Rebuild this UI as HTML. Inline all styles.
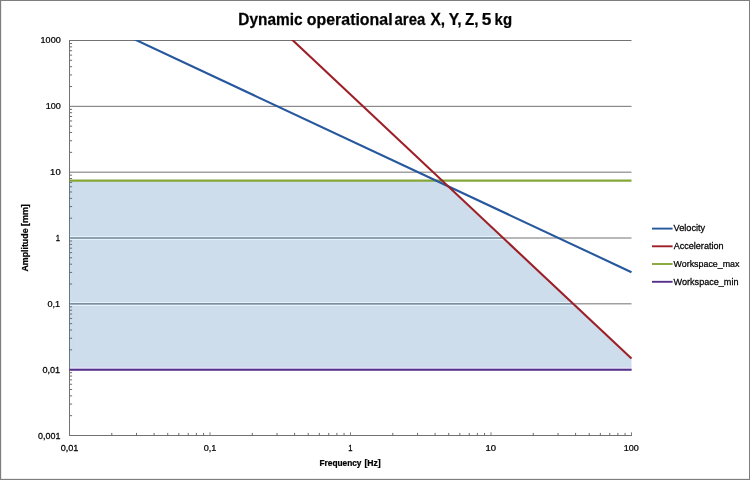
<!DOCTYPE html>
<html><head><meta charset="utf-8"><title>Chart</title>
<style>html,body{margin:0;padding:0;background:#fff;}svg{display:block;}text{font-family:"Liberation Sans",sans-serif;}</style></head><body>
<svg width="750" height="480" viewBox="0 0 750 480">
<defs><clipPath id="c"><rect x="68.5" y="40.0" width="563.6" height="396.0"/></clipPath>
<clipPath id="f"><polygon points="69.50,180.60 436.01,180.60 448.13,186.28 631.50,358.60 631.50,369.75 69.50,369.75"/></clipPath></defs>
<rect x="0" y="0" width="750" height="480" fill="#ffffff"/>
<line x1="69.5" y1="40.50" x2="631.5" y2="40.50" stroke="#727272" stroke-width="1"/>
<line x1="69.5" y1="106.33" x2="631.5" y2="106.33" stroke="#727272" stroke-width="1"/>
<line x1="69.5" y1="172.17" x2="631.5" y2="172.17" stroke="#727272" stroke-width="1"/>
<line x1="69.5" y1="238.00" x2="631.5" y2="238.00" stroke="#727272" stroke-width="1"/>
<line x1="69.5" y1="303.83" x2="631.5" y2="303.83" stroke="#727272" stroke-width="1"/>
<line x1="69.5" y1="369.67" x2="631.5" y2="369.67" stroke="#727272" stroke-width="1"/>
<polygon points="69.50,180.60 436.01,180.60 448.13,186.28 631.50,358.60 631.50,369.75 69.50,369.75" fill="#5388bb" fill-opacity="0.285"/>
<g clip-path="url(#f)">
<rect x="70.0" y="236" width="562.0" height="1" fill="#e8f6fe" fill-opacity="0.9"/>
<rect x="70.0" y="239" width="562.0" height="1" fill="#e8f6fe" fill-opacity="0.9"/>
<line x1="69.5" y1="238.00" x2="631.5" y2="238.00" stroke="#56646f" stroke-opacity="0.2" stroke-width="1.6"/>
<rect x="70.0" y="302" width="562.0" height="1" fill="#e8f6fe" fill-opacity="0.9"/>
<rect x="70.0" y="305" width="562.0" height="1" fill="#e8f6fe" fill-opacity="0.9"/>
<line x1="69.5" y1="303.83" x2="631.5" y2="303.83" stroke="#56646f" stroke-opacity="0.2" stroke-width="1.6"/>
<rect x="70.0" y="367.4" width="562.0" height="1.3" fill="#e9e0ff" fill-opacity="1"/>
</g>
<line x1="69.5" y1="40.0" x2="69.5" y2="436.0" stroke="#727272" stroke-width="1"/>
<line x1="69.5" y1="435.5" x2="632.0" y2="435.5" stroke="#727272" stroke-width="1"/>
<line x1="69.5" y1="181.5" x2="69.5" y2="368.7" stroke="#4f81bd" stroke-opacity="0.3" stroke-width="1"/>
<line x1="69.5" y1="415.68" x2="72.1" y2="415.68" stroke="#6c6c6c" stroke-width="1"/>
<line x1="69.5" y1="404.09" x2="72.1" y2="404.09" stroke="#6c6c6c" stroke-width="1"/>
<line x1="69.5" y1="395.86" x2="72.1" y2="395.86" stroke="#6c6c6c" stroke-width="1"/>
<line x1="69.5" y1="389.48" x2="72.1" y2="389.48" stroke="#6c6c6c" stroke-width="1"/>
<line x1="69.5" y1="384.27" x2="72.1" y2="384.27" stroke="#6c6c6c" stroke-width="1"/>
<line x1="69.5" y1="379.86" x2="72.1" y2="379.86" stroke="#6c6c6c" stroke-width="1"/>
<line x1="69.5" y1="376.05" x2="72.1" y2="376.05" stroke="#6c6c6c" stroke-width="1"/>
<line x1="69.5" y1="372.68" x2="72.1" y2="372.68" stroke="#6c6c6c" stroke-width="1"/>
<line x1="69.5" y1="349.85" x2="72.1" y2="349.85" stroke="#6c6c6c" stroke-width="1"/>
<line x1="69.5" y1="338.26" x2="72.1" y2="338.26" stroke="#6c6c6c" stroke-width="1"/>
<line x1="69.5" y1="330.03" x2="72.1" y2="330.03" stroke="#6c6c6c" stroke-width="1"/>
<line x1="69.5" y1="323.65" x2="72.1" y2="323.65" stroke="#6c6c6c" stroke-width="1"/>
<line x1="69.5" y1="318.44" x2="72.1" y2="318.44" stroke="#6c6c6c" stroke-width="1"/>
<line x1="69.5" y1="314.03" x2="72.1" y2="314.03" stroke="#6c6c6c" stroke-width="1"/>
<line x1="69.5" y1="310.21" x2="72.1" y2="310.21" stroke="#6c6c6c" stroke-width="1"/>
<line x1="69.5" y1="306.85" x2="72.1" y2="306.85" stroke="#6c6c6c" stroke-width="1"/>
<line x1="69.5" y1="284.02" x2="72.1" y2="284.02" stroke="#6c6c6c" stroke-width="1"/>
<line x1="69.5" y1="272.42" x2="72.1" y2="272.42" stroke="#6c6c6c" stroke-width="1"/>
<line x1="69.5" y1="264.20" x2="72.1" y2="264.20" stroke="#6c6c6c" stroke-width="1"/>
<line x1="69.5" y1="257.82" x2="72.1" y2="257.82" stroke="#6c6c6c" stroke-width="1"/>
<line x1="69.5" y1="252.61" x2="72.1" y2="252.61" stroke="#6c6c6c" stroke-width="1"/>
<line x1="69.5" y1="248.20" x2="72.1" y2="248.20" stroke="#6c6c6c" stroke-width="1"/>
<line x1="69.5" y1="244.38" x2="72.1" y2="244.38" stroke="#6c6c6c" stroke-width="1"/>
<line x1="69.5" y1="241.01" x2="72.1" y2="241.01" stroke="#6c6c6c" stroke-width="1"/>
<line x1="69.5" y1="218.18" x2="72.1" y2="218.18" stroke="#6c6c6c" stroke-width="1"/>
<line x1="69.5" y1="206.59" x2="72.1" y2="206.59" stroke="#6c6c6c" stroke-width="1"/>
<line x1="69.5" y1="198.36" x2="72.1" y2="198.36" stroke="#6c6c6c" stroke-width="1"/>
<line x1="69.5" y1="191.98" x2="72.1" y2="191.98" stroke="#6c6c6c" stroke-width="1"/>
<line x1="69.5" y1="186.77" x2="72.1" y2="186.77" stroke="#6c6c6c" stroke-width="1"/>
<line x1="69.5" y1="182.36" x2="72.1" y2="182.36" stroke="#6c6c6c" stroke-width="1"/>
<line x1="69.5" y1="178.55" x2="72.1" y2="178.55" stroke="#6c6c6c" stroke-width="1"/>
<line x1="69.5" y1="175.18" x2="72.1" y2="175.18" stroke="#6c6c6c" stroke-width="1"/>
<line x1="69.5" y1="152.35" x2="72.1" y2="152.35" stroke="#6c6c6c" stroke-width="1"/>
<line x1="69.5" y1="140.76" x2="72.1" y2="140.76" stroke="#6c6c6c" stroke-width="1"/>
<line x1="69.5" y1="132.53" x2="72.1" y2="132.53" stroke="#6c6c6c" stroke-width="1"/>
<line x1="69.5" y1="126.15" x2="72.1" y2="126.15" stroke="#6c6c6c" stroke-width="1"/>
<line x1="69.5" y1="120.94" x2="72.1" y2="120.94" stroke="#6c6c6c" stroke-width="1"/>
<line x1="69.5" y1="116.53" x2="72.1" y2="116.53" stroke="#6c6c6c" stroke-width="1"/>
<line x1="69.5" y1="112.71" x2="72.1" y2="112.71" stroke="#6c6c6c" stroke-width="1"/>
<line x1="69.5" y1="109.35" x2="72.1" y2="109.35" stroke="#6c6c6c" stroke-width="1"/>
<line x1="69.5" y1="86.52" x2="72.1" y2="86.52" stroke="#6c6c6c" stroke-width="1"/>
<line x1="69.5" y1="74.92" x2="72.1" y2="74.92" stroke="#6c6c6c" stroke-width="1"/>
<line x1="69.5" y1="66.70" x2="72.1" y2="66.70" stroke="#6c6c6c" stroke-width="1"/>
<line x1="69.5" y1="60.32" x2="72.1" y2="60.32" stroke="#6c6c6c" stroke-width="1"/>
<line x1="69.5" y1="55.11" x2="72.1" y2="55.11" stroke="#6c6c6c" stroke-width="1"/>
<line x1="69.5" y1="50.70" x2="72.1" y2="50.70" stroke="#6c6c6c" stroke-width="1"/>
<line x1="69.5" y1="46.88" x2="72.1" y2="46.88" stroke="#6c6c6c" stroke-width="1"/>
<line x1="69.5" y1="43.51" x2="72.1" y2="43.51" stroke="#6c6c6c" stroke-width="1"/>
<line x1="111.79" y1="435.5" x2="111.79" y2="432.9" stroke="#6c6c6c" stroke-width="1"/>
<line x1="136.54" y1="435.5" x2="136.54" y2="432.9" stroke="#6c6c6c" stroke-width="1"/>
<line x1="154.09" y1="435.5" x2="154.09" y2="432.9" stroke="#6c6c6c" stroke-width="1"/>
<line x1="167.71" y1="435.5" x2="167.71" y2="432.9" stroke="#6c6c6c" stroke-width="1"/>
<line x1="178.83" y1="435.5" x2="178.83" y2="432.9" stroke="#6c6c6c" stroke-width="1"/>
<line x1="188.24" y1="435.5" x2="188.24" y2="432.9" stroke="#6c6c6c" stroke-width="1"/>
<line x1="196.38" y1="435.5" x2="196.38" y2="432.9" stroke="#6c6c6c" stroke-width="1"/>
<line x1="203.57" y1="435.5" x2="203.57" y2="432.9" stroke="#6c6c6c" stroke-width="1"/>
<line x1="252.29" y1="435.5" x2="252.29" y2="432.9" stroke="#6c6c6c" stroke-width="1"/>
<line x1="277.04" y1="435.5" x2="277.04" y2="432.9" stroke="#6c6c6c" stroke-width="1"/>
<line x1="294.59" y1="435.5" x2="294.59" y2="432.9" stroke="#6c6c6c" stroke-width="1"/>
<line x1="308.21" y1="435.5" x2="308.21" y2="432.9" stroke="#6c6c6c" stroke-width="1"/>
<line x1="319.33" y1="435.5" x2="319.33" y2="432.9" stroke="#6c6c6c" stroke-width="1"/>
<line x1="328.74" y1="435.5" x2="328.74" y2="432.9" stroke="#6c6c6c" stroke-width="1"/>
<line x1="336.88" y1="435.5" x2="336.88" y2="432.9" stroke="#6c6c6c" stroke-width="1"/>
<line x1="344.07" y1="435.5" x2="344.07" y2="432.9" stroke="#6c6c6c" stroke-width="1"/>
<line x1="392.79" y1="435.5" x2="392.79" y2="432.9" stroke="#6c6c6c" stroke-width="1"/>
<line x1="417.54" y1="435.5" x2="417.54" y2="432.9" stroke="#6c6c6c" stroke-width="1"/>
<line x1="435.09" y1="435.5" x2="435.09" y2="432.9" stroke="#6c6c6c" stroke-width="1"/>
<line x1="448.71" y1="435.5" x2="448.71" y2="432.9" stroke="#6c6c6c" stroke-width="1"/>
<line x1="459.83" y1="435.5" x2="459.83" y2="432.9" stroke="#6c6c6c" stroke-width="1"/>
<line x1="469.24" y1="435.5" x2="469.24" y2="432.9" stroke="#6c6c6c" stroke-width="1"/>
<line x1="477.38" y1="435.5" x2="477.38" y2="432.9" stroke="#6c6c6c" stroke-width="1"/>
<line x1="484.57" y1="435.5" x2="484.57" y2="432.9" stroke="#6c6c6c" stroke-width="1"/>
<line x1="533.29" y1="435.5" x2="533.29" y2="432.9" stroke="#6c6c6c" stroke-width="1"/>
<line x1="558.04" y1="435.5" x2="558.04" y2="432.9" stroke="#6c6c6c" stroke-width="1"/>
<line x1="575.59" y1="435.5" x2="575.59" y2="432.9" stroke="#6c6c6c" stroke-width="1"/>
<line x1="589.21" y1="435.5" x2="589.21" y2="432.9" stroke="#6c6c6c" stroke-width="1"/>
<line x1="600.33" y1="435.5" x2="600.33" y2="432.9" stroke="#6c6c6c" stroke-width="1"/>
<line x1="609.74" y1="435.5" x2="609.74" y2="432.9" stroke="#6c6c6c" stroke-width="1"/>
<line x1="617.88" y1="435.5" x2="617.88" y2="432.9" stroke="#6c6c6c" stroke-width="1"/>
<line x1="625.07" y1="435.5" x2="625.07" y2="432.9" stroke="#6c6c6c" stroke-width="1"/>
<line x1="69.50" y1="435.5" x2="69.50" y2="432.3" stroke="#727272" stroke-width="0.9"/>
<line x1="210.00" y1="435.5" x2="210.00" y2="432.3" stroke="#727272" stroke-width="0.9"/>
<line x1="350.50" y1="435.5" x2="350.50" y2="432.3" stroke="#727272" stroke-width="0.9"/>
<line x1="491.00" y1="435.5" x2="491.00" y2="432.3" stroke="#727272" stroke-width="0.9"/>
<line x1="631.50" y1="435.5" x2="631.50" y2="432.3" stroke="#727272" stroke-width="0.9"/>
<g clip-path="url(#c)">
<line x1="69.50" y1="180.60" x2="631.50" y2="180.60" stroke="#85a738" stroke-width="2.2"/>
<line x1="69.50" y1="369.75" x2="631.50" y2="369.75" stroke="#55318b" stroke-width="2.2"/>
<line x1="132.74" y1="38.50" x2="631.50" y2="272.20" stroke="#27589d" stroke-width="2.1"/>
<line x1="290.87" y1="38.50" x2="631.50" y2="358.60" stroke="#9c1f28" stroke-width="2.1"/>
</g>
<g style="opacity:0.999" fill="#000" stroke="#000" stroke-width="0.25">
<text transform="translate(238.34,24.80) scale(0.9449,1)" font-size="16.3" font-weight="bold">Dynamic</text>
<text transform="translate(306.79,24.80) scale(0.9767,1)" font-size="16.3" font-weight="bold">operational</text>
<text transform="translate(394.54,24.80) scale(0.9177,1)" font-size="16.3" font-weight="bold">area</text>
<text transform="translate(430.48,24.80) scale(0.9487,1)" font-size="16.3" font-weight="bold">X,</text>
<text transform="translate(448.64,24.80) scale(0.9567,1)" font-size="16.3" font-weight="bold">Y,</text>
<text transform="translate(464.93,24.80) scale(0.9320,1)" font-size="16.3" font-weight="bold">Z,</text>
<text transform="translate(481.87,24.80) scale(1.0585,1)" font-size="16.3" font-weight="bold">5</text>
<text transform="translate(494.57,24.80) scale(0.9194,1)" font-size="16.3" font-weight="bold">kg</text>
<text transform="translate(40.56,43.00) scale(1.0309,1)" font-size="8.8" font-weight="normal">1000</text>
<text transform="translate(45.66,109.00) scale(1.0255,1)" font-size="8.8" font-weight="normal">100</text>
<text transform="translate(50.12,175.00) scale(1.0817,1)" font-size="8.8" font-weight="normal">10</text>
<text transform="translate(55.75,241.00) scale(0.8774,1)" font-size="8.8" font-weight="normal">1</text>
<text transform="translate(47.51,307.00) scale(1.0374,1)" font-size="8.8" font-weight="normal">0,1</text>
<text transform="translate(42.41,373.00) scale(1.0400,1)" font-size="8.8" font-weight="normal">0,01</text>
<text transform="translate(38.02,439.00) scale(1.0165,1)" font-size="8.8" font-weight="normal">0,001</text>
<text transform="translate(60.66,450.90) scale(1.0400,1)" font-size="8.8" font-weight="normal">0,01</text>
<text transform="translate(203.71,450.90) scale(1.0374,1)" font-size="8.8" font-weight="normal">0,1</text>
<text transform="translate(348.25,450.90) scale(0.8774,1)" font-size="8.8" font-weight="normal">1</text>
<text transform="translate(485.52,450.90) scale(1.0817,1)" font-size="8.8" font-weight="normal">10</text>
<text transform="translate(623.81,450.90) scale(1.0255,1)" font-size="8.8" font-weight="normal">100</text>
<text transform="translate(319.50,465.90) scale(0.9549,1)" font-size="8.7" font-weight="bold">Frequency</text>
<text transform="translate(364.39,465.90) scale(1.0286,1)" font-size="8.4" font-weight="bold">[Hz]</text>
<text transform="translate(28.00,271.55) rotate(-90) scale(1.0149,1)" font-size="8.7" font-weight="bold">Amplitude</text>
<text transform="translate(28.00,226.03) rotate(-90) scale(1.0667,1)" font-size="8.4" font-weight="bold">[mm]</text>
<text transform="translate(673.57,231.40) scale(1.0202,1)" font-size="9" font-weight="normal">Velocity</text>
<text transform="translate(673.70,249.10) scale(1.0082,1)" font-size="9" font-weight="normal">Acceleration</text>
<text transform="translate(673.58,266.80) scale(0.9876,1)" font-size="9" font-weight="normal">Workspace_max</text>
<text transform="translate(673.57,284.60) scale(1.0106,1)" font-size="9" font-weight="normal">Workspace_min</text>
</g>
<line x1="652" y1="228.6" x2="672.6" y2="228.6" stroke="#27589d" stroke-width="1.9"/>
<line x1="652" y1="246.3" x2="672.6" y2="246.3" stroke="#9c1f28" stroke-width="1.9"/>
<line x1="652" y1="264.0" x2="672.6" y2="264.0" stroke="#85a738" stroke-width="1.9"/>
<line x1="652" y1="281.8" x2="672.6" y2="281.8" stroke="#55318b" stroke-width="1.9"/>
<rect x="0.5" y="0.5" width="749" height="479" fill="none" stroke="#7e7e7e" stroke-width="1"/>
<line x1="1.5" y1="1" x2="1.5" y2="479" stroke="#808080" stroke-opacity="0.15" stroke-width="1"/>
<line x1="1" y1="478.5" x2="749" y2="478.5" stroke="#808080" stroke-opacity="0.15" stroke-width="1"/>
</svg></body></html>
